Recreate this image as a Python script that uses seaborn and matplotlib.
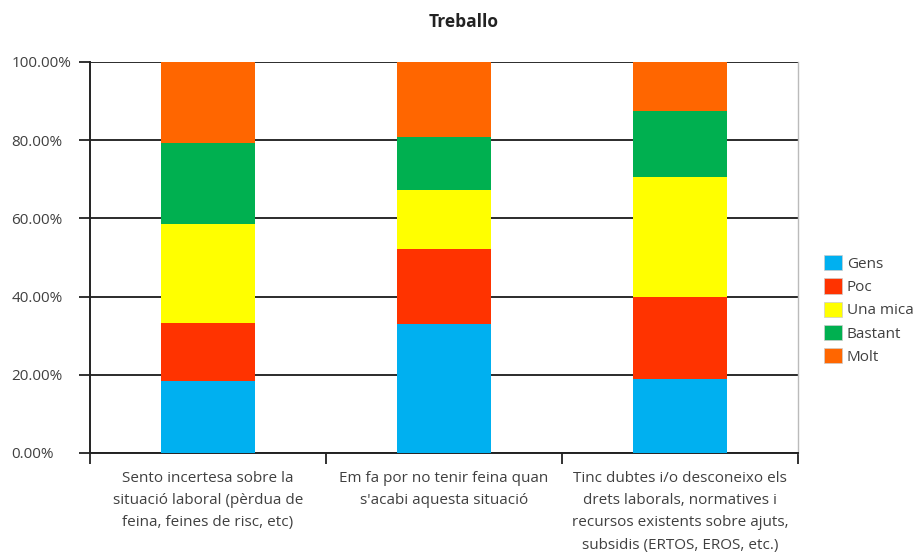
import matplotlib
matplotlib.use("Agg")
import matplotlib.pyplot as plt
from matplotlib.patches import Patch
import numpy as np
import pandas as pd
import seaborn as sns

categories = [
    "Sento incertesa sobre la\nsituació laboral (pèrdua de\nfeina, feines de risc, etc)",
    "Em fa por no tenir feina quan\ns'acabi aquesta situació",
    "Tinc dubtes i/o desconeixo els\ndrets laborals, normatives i\nrecursos existents sobre ajuts,\nsubsidis (ERTOS, EROS, etc.)",
]
levels = ["Gens", "Poc", "Una mica", "Bastant", "Molt"]
gens = [18.4, 33.0, 18.9]
poc = [14.8, 19.2, 21.1]
una_mica = [25.4, 15.1, 30.7]
bastant = [20.7, 13.5, 16.7]
molt = [20.7, 19.2, 12.6]
colors = ["#00B0F0", "#FF3300", "#FFFF00", "#00B050", "#FF6600"]
yticks = [0, 20, 40, 60, 80, 100]

sns.set_style("white")
plt.rcParams["font.family"] = ["Open Sans", "DejaVu Sans"]

series = [gens, poc, una_mica, bastant, molt]
df = pd.DataFrame({"cat": categories})
cum = np.zeros(len(categories))
for name, vals in zip(levels, series):
    cum = cum + np.array(vals)
    df[name] = cum

fig = plt.figure(figsize=(9.21, 5.54), dpi=100)
ax = fig.add_axes([90 / 921, 101 / 554, 708 / 921, 391 / 554])

# stacked look: draw cumulative totals from the top segment down
for name, col in reversed(list(zip(levels, colors))):
    sns.barplot(data=df, x="cat", y=name, color=col, width=0.4,
                saturation=1, linewidth=0, ax=ax, zorder=3)

ax.set_xlim(-0.5, 2.5)
ax.set_ylim(0, 100)
ax.set_yticks(yticks)
ax.set_yticklabels([f"{v:.2f}%" for v in yticks])
for lab in ax.get_yticklabels():
    lab.set_horizontalalignment("left")
ax.set_xlabel("")
ax.set_ylabel("")
ax.yaxis.grid(True, color="#1a1a1a", linewidth=1.3, zorder=0)
ax.set_axisbelow(True)

ax.set_xticks([-0.5, 0.5, 1.5, 2.5])
ax.set_xticklabels([])
ax.set_xticks([0, 1, 2], minor=True)
ax.set_xticklabels(categories, minor=True, fontsize=11, color="#404040",
                   linespacing=1.65, va="top")
ax.tick_params(axis="x", which="minor", length=0, pad=13)
ax.tick_params(axis="x", which="major", length=8, width=1.3, color="#222222",
               direction="out", bottom=True)
ax.tick_params(axis="y", length=8, width=1.3, color="#222222", left=True,
               labelsize=11, labelcolor="#404040", pad=48.5)

for side in ["left", "bottom"]:
    ax.spines[side].set_color("#222222")
    ax.spines[side].set_linewidth(1.4)
ax.spines["top"].set_visible(False)
ax.spines["right"].set_color("#bbbbbb")
ax.spines["right"].set_linewidth(1.0)

fig.text(464 / 921, 1 - 22 / 554, "Treballo", ha="center", va="center",
         fontsize=12.5, fontweight="bold", color="#222222")

handles = [Patch(facecolor=c, edgecolor="#cccccc", linewidth=0.5) for c in colors]
fig.legend(handles, levels, loc="center left",
           bbox_to_anchor=(824 / 921, 1 - 310 / 554), frameon=False,
           fontsize=11, handlelength=1.15, handleheight=1.15,
           handletextpad=0.35, labelspacing=0.42, borderaxespad=0,
           borderpad=0, labelcolor="#404040")

fig.savefig("out.png", dpi=100)
